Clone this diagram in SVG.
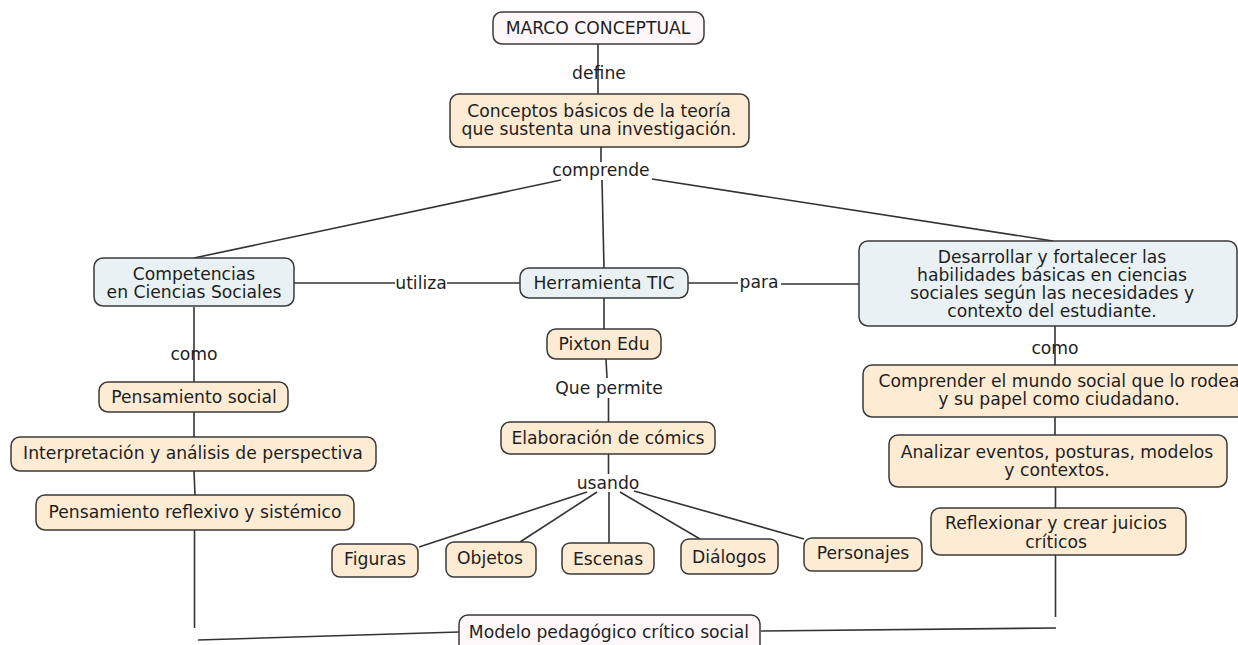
<svg xmlns="http://www.w3.org/2000/svg" width="1238" height="645" viewBox="0 0 1238 645">
<style>
  .n rect { stroke:#3a3a3a; stroke-width:1.5; }
  .beige rect { fill:#fdebd3; }
  .blue rect { fill:#e9f1f4; }
  .pink rect { fill:#fdf7fa; }
  text { font-family:"DejaVu Sans","Liberation Sans",sans-serif; font-size:17.2px; fill:#1e1e1e; text-anchor:middle; }
  .c path { stroke:#333; stroke-width:1.6; fill:none; }
</style>
<rect x="0" y="0" width="1238" height="645" fill="#ffffff"/>
<g id="connectors" class="c">
  <path d="M598,44 L598,94"/>
  <path d="M601,147 L601,162"/>
  <path d="M561,180 L194,258"/>
  <path d="M602,180 L604,268"/>
  <path d="M652,179 L1053,241"/>
  <path d="M294,283 L395,283"/>
  <path d="M447,283 L520,283"/>
  <path d="M688,283 L738,283"/>
  <path d="M781,284 L859,284"/>
  <path d="M604,298 L604,329"/>
  <path d="M606,359 L607,378"/>
  <path d="M608.5,398 L608.5,422"/>
  <path d="M608.5,454 L608.5,474"/>
  <path d="M587,492 L419,547"/>
  <path d="M597,492 L520,542"/>
  <path d="M609,492 L609,543"/>
  <path d="M620,492 L700,539"/>
  <path d="M634,491 L804,539"/>
  <path d="M194,307 L194,382"/>
  <path d="M194,412 L194,437"/>
  <path d="M194,471 L195,495"/>
  <path d="M194.5,530 L194.5,628"/>
  <path d="M198,640 L459,632"/>
  <path d="M1055,326 L1055,365"/>
  <path d="M1055,417 L1055,435"/>
  <path d="M1055.5,487 L1055.5,508"/>
  <path d="M1055.5,555 L1055.5,617"/>
  <path d="M761,631 L1056,628"/>
</g>
<g id="labels">
  <text x="599" y="79">define</text>
  <text x="601" y="176">comprende</text>
  <text x="421" y="289">utiliza</text>
  <text x="759" y="288">para</text>
  <text x="194" y="360">como</text>
  <text x="1055" y="354">como</text>
  <text x="609" y="394">Que permite</text>
  <text x="608" y="489">usando</text>
</g>
<g id="marco" class="n pink"><rect x="493" y="12" width="211" height="32" rx="9"/><text x="598" y="34">MARCO CONCEPTUAL</text></g>
<g id="conceptos" class="n beige"><rect x="450" y="94" width="299" height="53" rx="9"/><text x="599" y="117">Conceptos básicos de la teoría</text><text x="599" y="135">que sustenta una investigación.</text></g>
<g id="competencias" class="n blue"><rect x="94" y="258" width="200" height="48" rx="9"/><text x="194" y="280">Competencias</text><text x="194" y="298">en Ciencias Sociales</text></g>
<g id="herramienta" class="n blue"><rect x="520" y="268" width="168" height="30" rx="9"/><text x="604" y="289">Herramienta TIC</text></g>
<g id="desarrollar" class="n blue"><rect x="859" y="241" width="378" height="85" rx="9"/><text x="1052" y="263">Desarrollar y fortalecer las</text><text x="1052" y="281">habilidades básicas en ciencias</text><text x="1052" y="299">sociales según las necesidades y</text><text x="1052" y="317">contexto del estudiante.</text></g>
<g id="pixton" class="n beige"><rect x="547" y="329" width="114" height="30" rx="9"/><text x="604" y="350">Pixton Edu</text></g>
<g id="elaboracion" class="n beige"><rect x="501" y="422" width="214" height="32" rx="9"/><text x="608" y="444">Elaboración de cómics</text></g>
<g id="figuras" class="n beige"><rect x="332" y="544" width="86" height="33" rx="8"/><text x="375" y="565">Figuras</text></g>
<g id="objetos" class="n beige"><rect x="446" y="542" width="90" height="35" rx="8"/><text x="490" y="564">Objetos</text></g>
<g id="escenas" class="n beige"><rect x="562" y="543" width="92" height="31" rx="8"/><text x="608" y="565">Escenas</text></g>
<g id="dialogos" class="n beige"><rect x="681" y="539" width="97" height="35" rx="8"/><text x="729" y="563">Diálogos</text></g>
<g id="personajes" class="n beige"><rect x="804" y="538" width="118" height="33" rx="8"/><text x="863" y="559">Personajes</text></g>
<g id="pensamiento-social" class="n beige"><rect x="99" y="382" width="189" height="30" rx="9"/><text x="194" y="403">Pensamiento social</text></g>
<g id="interpretacion" class="n beige"><rect x="11" y="437" width="365" height="34" rx="9"/><text x="193" y="459">Interpretación y análisis de perspectiva</text></g>
<g id="pensamiento-reflexivo" class="n beige"><rect x="36" y="495" width="318" height="35" rx="9"/><text x="195" y="518">Pensamiento reflexivo y sistémico</text></g>
<g id="comprender" class="n beige"><rect x="863" y="365" width="400" height="52" rx="9"/><text x="1059" y="387">Comprender el mundo social que lo rodea</text><text x="1059" y="405">y su papel como ciudadano.</text></g>
<g id="analizar" class="n beige"><rect x="889" y="435" width="338" height="52" rx="9"/><text x="1057" y="458">Analizar eventos, posturas, modelos</text><text x="1057" y="476">y contextos.</text></g>
<g id="reflexionar" class="n beige"><rect x="931" y="508" width="255" height="47" rx="9"/><text x="1056" y="529">Reflexionar y crear juicios</text><text x="1056" y="548">críticos</text></g>
<g id="modelo" class="n pink"><rect x="459" y="615" width="301" height="40" rx="9"/><text x="609" y="638">Modelo pedagógico crítico social</text></g>
</svg>
